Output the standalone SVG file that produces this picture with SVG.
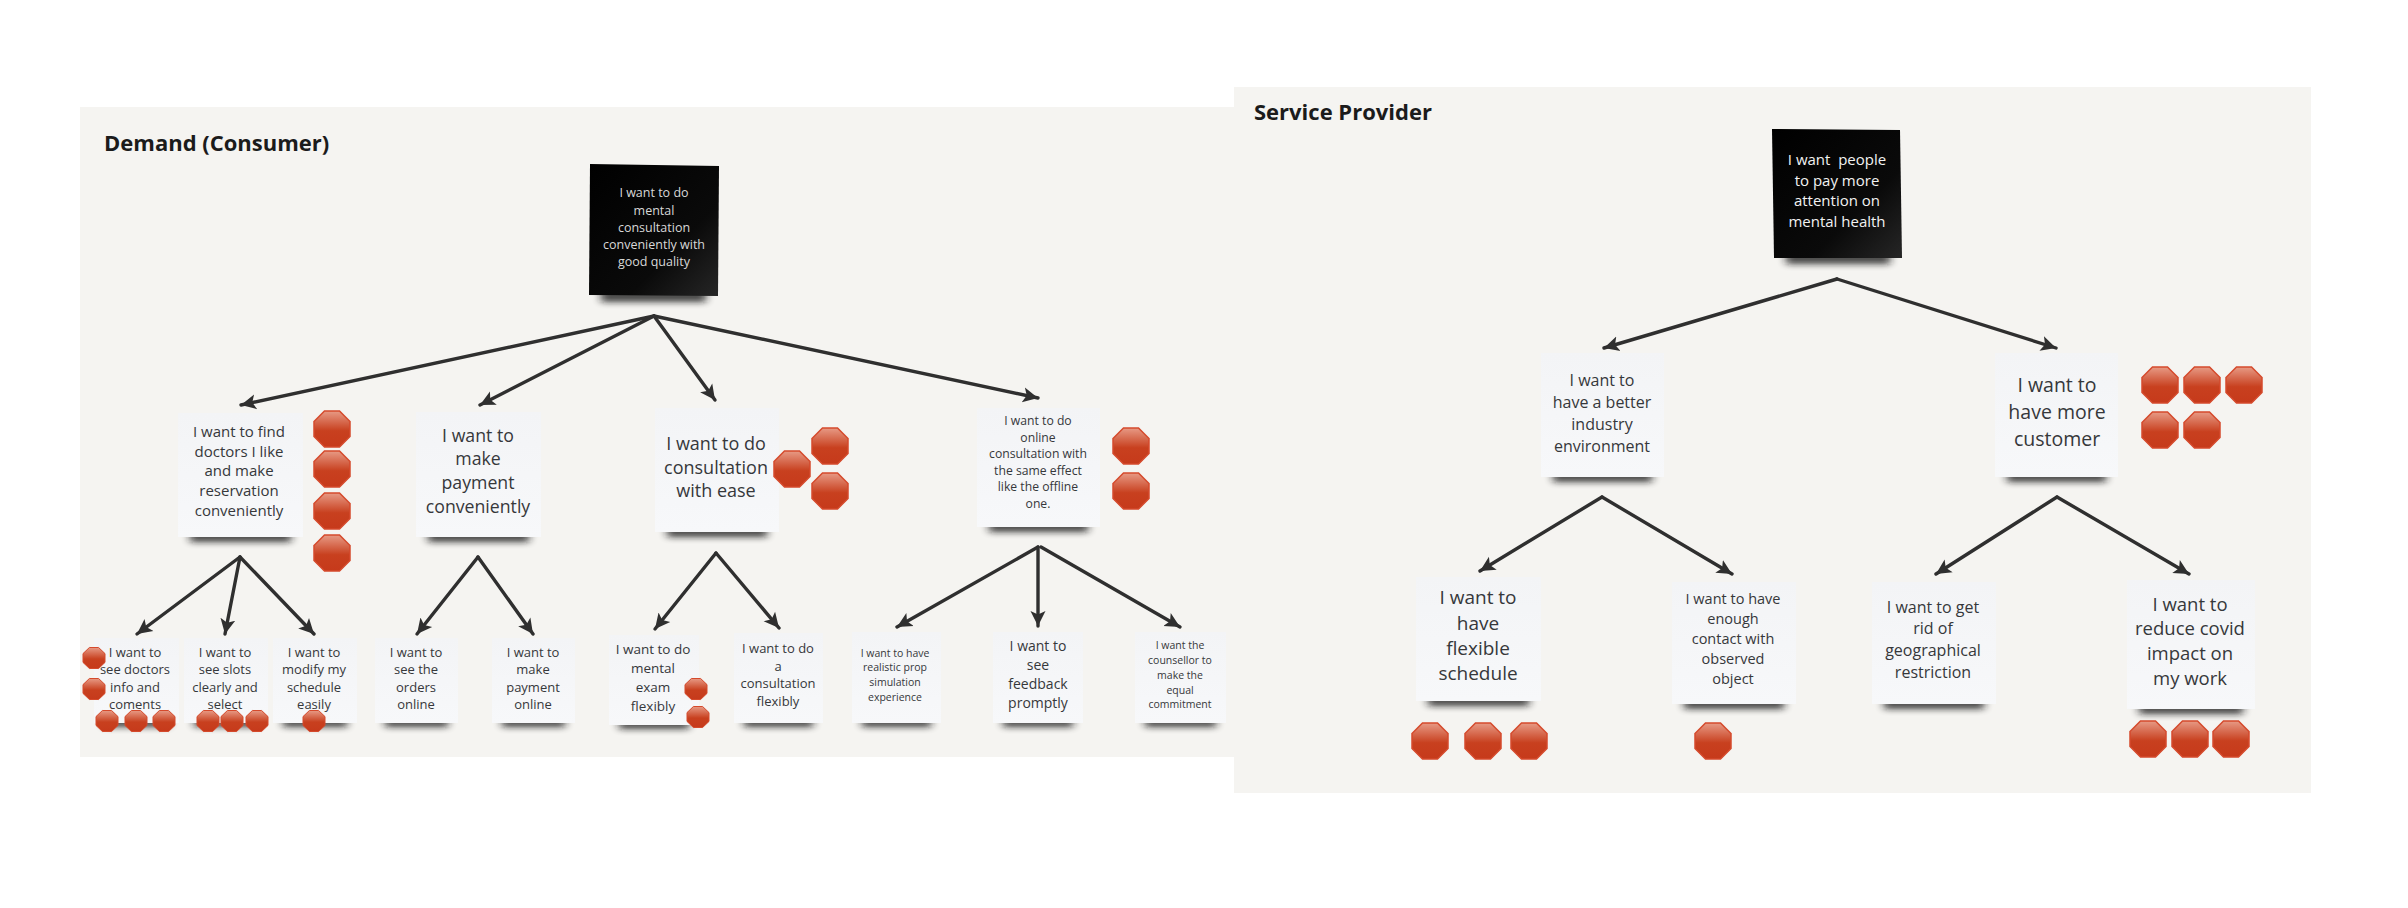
<svg xmlns="http://www.w3.org/2000/svg" width="2408" height="908" viewBox="0 0 2408 908">
<style>
text{font-family:"Open Sans","Noto Sans","Liberation Sans",sans-serif;text-anchor:middle;fill:#36383b;white-space:pre}
.title{font-weight:700;text-anchor:start;fill:#1b1b1b;font-size:22px}
.panel{fill:#f5f4f1}
.note{fill:url(#noteFill)}
.dark{fill:url(#darkFill)}
.shadow{fill:#161616;opacity:.8;filter:url(#soft)}
.conn{fill:none;stroke:#2f2f2f;stroke-width:3.4;stroke-linecap:round;marker-end:url(#arrow)}
.lt{fill:#d8d8d8}
.wt{fill:#f2f2f2}
</style>
<defs>
<linearGradient id="noteFill" x1="0" y1="0" x2="0" y2="1"><stop offset="0" stop-color="#f3f4f6"/><stop offset="1" stop-color="#f7f8fa"/></linearGradient>
<linearGradient id="darkFill" x1="0" y1="0" x2="1" y2="1"><stop offset="0" stop-color="#000"/><stop offset=".65" stop-color="#0a0a0a"/><stop offset="1" stop-color="#262626"/></linearGradient>
<linearGradient id="stopFill" x1="0" y1="0" x2="0" y2="1"><stop offset="0" stop-color="#e79a85"/><stop offset=".55" stop-color="#c8401f"/><stop offset="1" stop-color="#c63a1b"/></linearGradient>
<filter id="soft" x="-15%" y="-200%" width="130%" height="500%"><feGaussianBlur stdDeviation="4 3.4"/></filter>
<marker id="arrow" markerUnits="userSpaceOnUse" markerWidth="20" markerHeight="20" refX="15" refY="9" orient="auto"><path d="M0 1.500 L15 9 L0 16.500 L3.500 9 Z" fill="#2f2f2f"/></marker>
<polygon id="stopL" points="-7.500,-18 7.500,-18 18,-7.500 18,7.500 7.500,18 -7.500,18 -18,7.500 -18,-7.500" fill="url(#stopFill)" stroke="#d54a2c" stroke-width="1.500"/>
<polygon id="stopS" points="-4.600,-10.500 4.600,-10.500 11,-4.400 11,4.400 4.600,10.500 -4.600,10.500 -11,4.400 -11,-4.400" fill="url(#stopFill)" stroke="#d54a2c" stroke-width="1"/>
</defs>
<rect width="2408" height="908" fill="#fff"/>
<rect class="panel" x="80" y="107" width="1154" height="650"/>
<rect class="panel" x="1234" y="87" width="1077" height="706"/>
<text class="title" x="104" y="151">Demand (Consumer)</text>
<text class="title" x="1254" y="120">Service Provider</text>

<g id="connectors">
<line class="conn" x1="654" y1="316" x2="241" y2="405"/>
<line class="conn" x1="654" y1="316" x2="480" y2="405"/>
<line class="conn" x1="654" y1="316" x2="715" y2="400"/>
<line class="conn" x1="654" y1="316" x2="1038" y2="398"/>
<line class="conn" x1="240" y1="557" x2="137" y2="634"/>
<line class="conn" x1="240" y1="557" x2="225" y2="634"/>
<line class="conn" x1="240" y1="557" x2="314" y2="634"/>
<line class="conn" x1="478" y1="557" x2="417" y2="634"/>
<line class="conn" x1="478" y1="557" x2="533" y2="634"/>
<line class="conn" x1="716" y1="553" x2="655" y2="629"/>
<line class="conn" x1="716" y1="553" x2="779" y2="628"/>
<line class="conn" x1="1038" y1="547" x2="897" y2="627"/>
<line class="conn" x1="1038" y1="547" x2="1038" y2="626"/>
<line class="conn" x1="1041" y1="547" x2="1180" y2="627"/>
<line class="conn" x1="1837" y1="279" x2="1604" y2="348"/>
<line class="conn" x1="1837" y1="279" x2="2056" y2="348"/>
<line class="conn" x1="1602" y1="497" x2="1480" y2="571"/>
<line class="conn" x1="1602" y1="497" x2="1732" y2="574"/>
<line class="conn" x1="2057" y1="497" x2="1936" y2="574"/>
<line class="conn" x1="2057" y1="497" x2="2189" y2="574"/>
</g>

<g id="root-demand">
<rect class="shadow" x="601" y="291" width="105" height="11"/>
<polygon class="dark" points="590,164 719,166 718,296 589,295"/>
<g font-size="12.500"><text class="lt" x="654" y="197">I want to do</text><text class="lt" x="654" y="214.500">mental</text><text class="lt" x="654" y="231.500">consultation</text><text class="lt" x="654" y="249">conveniently with</text><text class="lt" x="654" y="266">good quality</text></g>
</g>

<g id="need-find-doctors">
<rect class="shadow" x="190" y="532" width="101" height="10"/>
<rect class="note" x="178" y="413" width="125" height="124"/>
<g font-size="15"><text x="239" y="437">I want to find</text><text x="239" y="457">doctors I like</text><text x="239" y="476">and make</text><text x="239" y="496">reservation</text><text x="239" y="516">conveniently</text></g>
<use href="#stopL" x="332" y="429"/><use href="#stopL" x="332" y="469"/><use href="#stopL" x="332" y="511"/><use href="#stopL" x="332" y="553"/>
</g>

<g id="need-payment">
<rect class="shadow" x="428" y="532" width="101" height="10"/>
<rect class="note" x="416" y="412" width="125" height="125"/>
<g font-size="17.700"><text x="478" y="442">I want to</text><text x="478" y="465">make</text><text x="478" y="489">payment</text><text x="478" y="513">conveniently</text></g>
</g>

<g id="need-ease">
<rect class="shadow" x="667" y="527" width="100" height="10"/>
<rect class="note" x="655" y="408" width="124" height="124"/>
<g font-size="18"><text x="716" y="449.500">I want to do</text><text x="716" y="473.500">consultation</text><text x="716" y="496.500">with ease</text></g>
<use href="#stopL" x="792" y="469"/><use href="#stopL" x="830" y="446"/><use href="#stopL" x="830" y="491"/>
</g>

<g id="need-online-effect">
<rect class="shadow" x="989" y="522" width="99" height="10"/>
<rect class="note" x="977" y="408" width="123" height="119"/>
<g font-size="12.200"><text x="1038" y="425">I want to do</text><text x="1038" y="442">online</text><text x="1038" y="458">consultation with</text><text x="1038" y="475">the same effect</text><text x="1038" y="491">like the offline</text><text x="1038" y="508">one.</text></g>
<use href="#stopL" x="1131" y="446"/><use href="#stopL" x="1131" y="491"/>
</g>

<g id="leaf-doctors-info">
<rect class="shadow" x="104" y="718" width="65" height="9"/>
<rect class="note" x="94" y="638" width="85" height="85"/>
<g font-size="13"><text x="135" y="656.500">I want to</text><text x="135" y="673.500">see doctors</text><text x="135" y="691.500">info and</text><text x="135" y="708.500">coments</text></g>
<use href="#stopS" x="94" y="658"/><use href="#stopS" x="94" y="689"/><use href="#stopS" x="107" y="721"/><use href="#stopS" x="136" y="721"/><use href="#stopS" x="164" y="721"/>
</g>
<g id="leaf-slots">
<rect class="shadow" x="194" y="718" width="64" height="9"/>
<rect class="note" x="184" y="638" width="84" height="85"/>
<g font-size="13"><text x="225" y="656.500">I want to</text><text x="225" y="673.500">see slots</text><text x="225" y="691.500">clearly and</text><text x="225" y="708.500">select</text></g>
<use href="#stopS" x="208" y="721"/><use href="#stopS" x="232" y="721"/><use href="#stopS" x="257" y="721"/>
</g>
<g id="leaf-modify">
<rect class="shadow" x="283" y="718" width="64" height="9"/>
<rect class="note" x="273" y="638" width="84" height="85"/>
<g font-size="13"><text x="314" y="656.500">I want to</text><text x="314" y="673.500">modify my</text><text x="314" y="691.500">schedule</text><text x="314" y="708.500">easily</text></g>
<use href="#stopS" x="314" y="721"/>
</g>
<g id="leaf-orders">
<rect class="shadow" x="385" y="718" width="63" height="9"/>
<rect class="note" x="375" y="638" width="83" height="85"/>
<g font-size="13"><text x="416" y="656.500">I want to</text><text x="416" y="673.500">see the</text><text x="416" y="691.500">orders</text><text x="416" y="708.500">online</text></g>
</g>
<g id="leaf-pay-online">
<rect class="shadow" x="502" y="718" width="63" height="9"/>
<rect class="note" x="492" y="638" width="83" height="85"/>
<g font-size="13"><text x="533" y="656.500">I want to</text><text x="533" y="673.500">make</text><text x="533" y="691.500">payment</text><text x="533" y="708.500">online</text></g>
</g>
<g id="leaf-exam">
<rect class="shadow" x="619" y="720" width="70" height="9"/>
<rect class="note" x="609" y="635" width="90" height="90"/>
<g font-size="13.500"><text x="653" y="653.500">I want to do</text><text x="653" y="672.500">mental</text><text x="653" y="691.500">exam</text><text x="653" y="710.500">flexibly</text></g>
<use href="#stopS" x="696" y="689"/><use href="#stopS" x="698" y="717"/>
</g>
<g id="leaf-flexibly">
<rect class="shadow" x="744" y="718" width="69" height="9"/>
<rect class="note" x="734" y="633" width="89" height="90"/>
<g font-size="13"><text x="778" y="652.500">I want to do</text><text x="778" y="670.500">a</text><text x="778" y="687.500">consultation</text><text x="778" y="705.500">flexibly</text></g>
</g>
<g id="leaf-prop">
<rect class="shadow" x="862" y="718" width="69" height="9"/>
<rect class="note" x="852" y="632" width="89" height="91"/>
<g font-size="10.500"><text x="895" y="656.500">I want to have</text><text x="895" y="670.500">realistic prop</text><text x="895" y="685.500">simulation</text><text x="895" y="700.500">experience</text></g>
</g>
<g id="leaf-feedback">
<rect class="shadow" x="1003" y="718" width="70" height="9"/>
<rect class="note" x="993" y="632" width="90" height="91"/>
<g font-size="14"><text x="1038" y="650.500">I want to</text><text x="1038" y="669.500">see</text><text x="1038" y="688.500">feedback</text><text x="1038" y="707.500">promptly</text></g>
</g>
<g id="leaf-counsellor">
<rect class="shadow" x="1145" y="718" width="71" height="9"/>
<rect class="note" x="1135" y="632" width="91" height="91"/>
<g font-size="10.500"><text x="1180" y="648.500">I want the</text><text x="1180" y="663.500">counsellor to</text><text x="1180" y="678.500">make the</text><text x="1180" y="693.500">equal</text><text x="1180" y="707.500">commitment</text></g>
</g>

<g id="root-provider">
<rect class="shadow" x="1786" y="253" width="104" height="11"/>
<polygon class="dark" points="1772,129 1900,130 1902,258 1774,258"/>
<g font-size="15"><text class="wt" x="1837" y="165">I want  people</text><text class="wt" x="1837" y="186">to pay more</text><text class="wt" x="1837" y="206">attention on</text><text class="wt" x="1837" y="227">mental health</text></g>
</g>
<g id="need-industry">
<rect class="shadow" x="1553" y="472" width="99" height="10"/>
<rect class="note" x="1541" y="353" width="123" height="124"/>
<g font-size="16"><text x="1602" y="385.500">I want to</text><text x="1602" y="407.500">have a better</text><text x="1602" y="429.500">industry</text><text x="1602" y="451.500">environment</text></g>
</g>
<g id="need-customer">
<rect class="shadow" x="2007" y="472" width="99" height="10"/>
<rect class="note" x="1995" y="353" width="123" height="124"/>
<g font-size="19.500"><text x="2057" y="391.500">I want to</text><text x="2057" y="418.500">have more</text><text x="2057" y="445.500">customer</text></g>
<use href="#stopL" x="2160" y="385"/><use href="#stopL" x="2202" y="385"/><use href="#stopL" x="2244" y="385"/><use href="#stopL" x="2160" y="430"/><use href="#stopL" x="2202" y="430"/>
</g>
<g id="need-flexible-schedule">
<rect class="shadow" x="1428" y="696" width="101" height="10"/>
<rect class="note" x="1416" y="577" width="125" height="124"/>
<g font-size="19"><text x="1478" y="603.500">I want to</text><text x="1478" y="629.500">have</text><text x="1478" y="654.500">flexible</text><text x="1478" y="679.500">schedule</text></g>
<use href="#stopL" x="1430" y="741"/><use href="#stopL" x="1483" y="741"/><use href="#stopL" x="1529" y="741"/>
</g>
<g id="need-contact">
<rect class="shadow" x="1684" y="699" width="100" height="10"/>
<rect class="note" x="1672" y="582" width="124" height="122"/>
<g font-size="14.500"><text x="1733" y="604">I want to have</text><text x="1733" y="624">enough</text><text x="1733" y="644">contact with</text><text x="1733" y="664">observed</text><text x="1733" y="684">object</text></g>
<use href="#stopL" x="1713" y="741"/>
</g>
<g id="need-geo">
<rect class="shadow" x="1884" y="699" width="100" height="10"/>
<rect class="note" x="1872" y="582" width="124" height="122"/>
<g font-size="16"><text x="1933" y="612.500">I want to get</text><text x="1933" y="633.500">rid of</text><text x="1933" y="655.500">geographical</text><text x="1933" y="677.500">restriction</text></g>
</g>
<g id="need-covid">
<rect class="shadow" x="2139" y="704" width="104" height="10"/>
<rect class="note" x="2127" y="580" width="128" height="129"/>
<g font-size="18.500"><text x="2190" y="611">I want to</text><text x="2190" y="635">reduce covid</text><text x="2190" y="660">impact on</text><text x="2190" y="685">my work</text></g>
<use href="#stopL" x="2148" y="739"/><use href="#stopL" x="2190" y="739"/><use href="#stopL" x="2231" y="739"/>
</g>
</svg>
